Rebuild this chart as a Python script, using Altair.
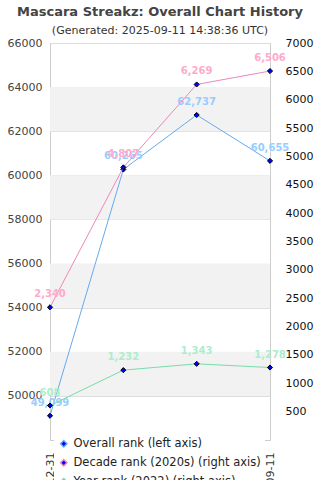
import altair as alt
import pandas as pd

dates = ["2022-12-31", "2023-12-31", "2024-12-31", "2025-09-11"]
overall = [49099, 60265, 62737, 60655]
decade = [2340, 4807, 6269, 6506]
year = [608, 1232, 1343, 1278]

series_names = [
    "Overall rank (left axis)",
    "Decade rank (2020s) (right axis)",
    "Year rank (2022) (right axis)",
]
line_colors = ["#66aaee", "#ee88bb", "#77ddaa"]
label_colors = ["#99ccff", "#ffaacc", "#aaeecc"]
marker_colors = ["#0000ff", "#0000ff", "#0000ff"]
band_lo = [50000, 54000, 58000, 62000]
band_hi = [52000, 56000, 60000, 64000]
left_ticks = [50000, 52000, 54000, 56000, 58000, 60000, 62000, 64000, 66000]
right_ticks = [500, 1000, 1500, 2000, 2500, 3000, 3500, 4000, 4500, 5000, 5500, 6000, 6500, 7000]

rows = []
for name, vals in zip(series_names, [overall, decade, year]):
    for d, v in zip(dates, vals):
        rows.append({"date": d, "series": name, "rank": v})
df = pd.DataFrame(rows)
left_df = df[df.series == series_names[0]]
right_df = df[df.series != series_names[0]]
bands = pd.DataFrame({"lo": band_lo, "hi": band_hi})

x_enc = alt.X(
    "date:O", sort=dates,
    scale=alt.Scale(type="point", padding=0),
    axis=alt.Axis(title=None, labelAngle=270, labelFontSize=11, labelColor="#333",
                  domain=False, ticks=False, grid=False, labelPadding=12),
)
legend = alt.Legend(
    title=None, orient="none", legendX=4, legendY=391,
    fillColor="white", padding=4, symbolType="diamond",
    symbolSize=40, symbolStrokeWidth=1.5,
    labelFontSize=11.5, labelColor="#222", rowPadding=6, labelLimit=300,
)
stroke_enc = alt.Stroke("series:N", scale=alt.Scale(domain=series_names, range=line_colors), legend=legend)
fill_enc = alt.Fill("series:N", scale=alt.Scale(domain=series_names, range=marker_colors), legend=legend)
text_enc = alt.Color("series:N", scale=alt.Scale(domain=series_names, range=label_colors), legend=None)

yL_scale = alt.Scale(domain=[48000, 66000], nice=False, zero=False)
yL_axis = alt.Axis(title=None, orient="left", values=left_ticks, format="d", grid=True,
                   gridColor="#dddddd", domain=False, ticks=False, labelFontSize=11,
                   labelColor="#444", labelPadding=8)
yR_scale = alt.Scale(domain=[0, 7000], nice=False)
yR_axis = alt.Axis(title=None, orient="right", values=right_ticks, format="d", grid=False,
                   domain=False, ticks=False, labelFontSize=11, labelColor="#111",
                   labelPadding=15)

band_layer = alt.Chart(bands).mark_rect(color="#f2f2f2").encode(
    y=alt.Y("lo:Q", scale=yL_scale, axis=yL_axis), y2="hi:Q"
)
left_base = alt.Chart(left_df).encode(x=x_enc, y=alt.Y("rank:Q", scale=yL_scale, axis=yL_axis))
left_line = left_base.mark_line(strokeWidth=1).encode(stroke=stroke_enc)
left_pts = left_base.mark_point(shape="diamond", filled=True, stroke="black",
                                strokeWidth=1, size=26, opacity=1).encode(fill=fill_enc)
left_txt = left_base.mark_text(dy=-13, fontSize=10, fontWeight="bold").encode(
    text=alt.Text("rank:Q", format=","), color=text_enc)
left = alt.layer(band_layer, left_line, left_pts, left_txt)

right_base = alt.Chart(right_df).encode(x=x_enc, y=alt.Y("rank:Q", scale=yR_scale, axis=yR_axis))
right_line = right_base.mark_line(strokeWidth=1).encode(stroke=stroke_enc)
right_pts = right_base.mark_point(shape="diamond", filled=True, stroke="black",
                                  strokeWidth=1, size=26, opacity=1).encode(fill=fill_enc)
right_txt = right_base.mark_text(dy=-13, fontSize=10, fontWeight="bold").encode(
    text=alt.Text("rank:Q", format=","), color=text_enc)
right = alt.layer(right_line, right_pts, right_txt)

chart = alt.layer(left, right).resolve_scale(y="independent").properties(
    width=220, height=397,
    autosize=alt.AutoSizeParams(type="none"),
    padding={"left": 50, "top": 43, "right": 50, "bottom": 40},
    title=alt.TitleParams(
        text="Mascara Streakz: Overall Chart History",
        subtitle="(Generated: 2025-09-11 14:38:36 UTC)",
        fontSize=13, fontWeight="bold", color="#444",
        subtitleFontSize=11, subtitleColor="#333", subtitlePadding=6,
        anchor="middle", offset=1, frame="group",
    ),
).configure(font="DejaVu Sans").configure_view(stroke="#cccccc")

chart.save("out.html", embed_options={"renderer": "svg", "actions": False})
